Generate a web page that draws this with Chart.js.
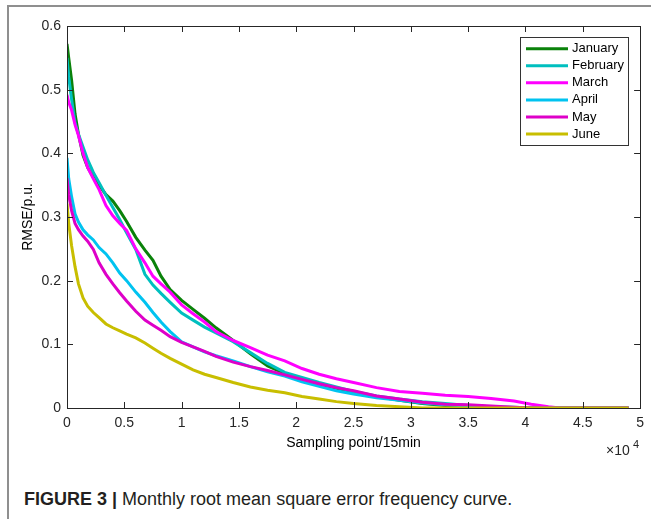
<!DOCTYPE html>
<html>
<head>
<meta charset="utf-8">
<title>Monthly RMSE frequency curve</title>
<script src="https://cdn.jsdelivr.net/npm/chart.js@4.4.1/dist/chart.umd.min.js"></script>
<style>
  html, body { margin: 0; padding: 0; background: #fff; }
  #wrap { position: relative; width: 651px; height: 519px; overflow: hidden; }
  #frameTop { position: absolute; left: 7px; top: 5px; width: 644px; height: 0; border-top: 2px solid #8f8f8f; }
  #frameLeft { position: absolute; left: 7px; top: 5px; width: 0; height: 514px; border-left: 2px solid #8f8f8f; }
  #chartBox { position: absolute; left: 0; top: 0; width: 651px; height: 470px; }
  #caption { position: absolute; left: 24px; top: 490px; font: 18px/18px "Liberation Sans", Arial, sans-serif; color: #231f20; white-space: nowrap; }
  #caption b { font-weight: bold; }
</style>
</head>
<body>
<div id="wrap">
  <div id="frameTop"></div>
  <div id="frameLeft"></div>
  <div id="chartBox"><canvas id="rmseChart" width="651" height="470"></canvas></div>
  <div id="caption"><b>FIGURE 3 |</b> Monthly root mean square error frequency curve.</div>
</div>
<script>
// sampling points (shared by every month)
const samplePoints = [0, 150, 400, 700, 1000, 1400, 1800, 2300, 2800, 3400, 4000, 4600, 5200, 6000, 6800, 7500,
  8200, 9000, 10000, 11000, 12000, 13000, 14500, 16000, 17500, 19000, 20500, 22000, 23500, 25000, 27000,
  29000, 31000, 33000, 35000, 37000, 39000, 40500, 42000, 43000, 45000, 47000, 49000];

const january = [0.572, 0.55, 0.515, 0.462, 0.43, 0.397, 0.378, 0.362, 0.35, 0.335, 0.325, 0.31, 0.293, 0.268, 0.248, 0.232,
  0.207, 0.186, 0.169, 0.155, 0.141, 0.126, 0.106, 0.085, 0.066, 0.054, 0.046, 0.038, 0.031, 0.025, 0.018,
  0.012, 0.007, 0.004, 0.002, 0.001, 0, 0, 0, 0, 0, 0, 0];
const february = [0.55, 0.52, 0.485, 0.448, 0.43, 0.41, 0.39, 0.37, 0.354, 0.334, 0.315, 0.296, 0.275, 0.249, 0.21, 0.193,
  0.18, 0.166, 0.149, 0.138, 0.127, 0.118, 0.104, 0.087, 0.07, 0.056, 0.048, 0.04, 0.033, 0.026, 0.019,
  0.014, 0.01, 0.007, 0.004, 0.002, 0.001, 0, 0, 0, 0, 0, 0];
const march = [0.492, 0.48, 0.468, 0.445, 0.428, 0.4, 0.378, 0.36, 0.343, 0.318, 0.302, 0.29, 0.279, 0.25, 0.228, 0.207,
  0.195, 0.182, 0.162, 0.148, 0.135, 0.12, 0.106, 0.095, 0.083, 0.074, 0.062, 0.053, 0.046, 0.04, 0.032,
  0.026, 0.023, 0.02, 0.018, 0.015, 0.011, 0.006, 0.002, 0, 0, 0, 0];
const april = [0.393, 0.36, 0.332, 0.305, 0.292, 0.28, 0.272, 0.264, 0.252, 0.242, 0.228, 0.212, 0.2, 0.182, 0.166, 0.15,
  0.135, 0.12, 0.104, 0.096, 0.088, 0.082, 0.074, 0.065, 0.057, 0.05, 0.041, 0.034, 0.027, 0.022, 0.016,
  0.012, 0.008, 0.005, 0.003, 0.001, 0, 0, 0, 0, 0, 0, 0];
const may = [0.361, 0.335, 0.31, 0.29, 0.28, 0.27, 0.262, 0.249, 0.228, 0.21, 0.195, 0.181, 0.168, 0.152, 0.138, 0.13,
  0.122, 0.112, 0.103, 0.096, 0.089, 0.081, 0.072, 0.065, 0.059, 0.052, 0.045, 0.038, 0.032, 0.027, 0.019,
  0.014, 0.009, 0.006, 0.005, 0.003, 0.001, 0, 0, 0, 0, 0, 0];
const june = [0.321, 0.29, 0.255, 0.222, 0.195, 0.173, 0.16, 0.15, 0.142, 0.132, 0.126, 0.121, 0.116, 0.11, 0.102, 0.094,
  0.086, 0.078, 0.069, 0.06, 0.053, 0.048, 0.04, 0.033, 0.028, 0.024, 0.018, 0.014, 0.01, 0.007, 0.004,
  0.002, 0, 0, 0, 0, 0, 0, 0, 0, 0, 0, 0];

const monthNames = ['January', 'February', 'March', 'April', 'May', 'June'];
const monthColors = ['#0a820a', '#00bfbf', '#ff00ff', '#00c3f0', '#de00c8', '#c8be00'];
const monthValues = [january, february, march, april, may, june];

const FONT = '"Liberation Sans", Arial, Helvetica, sans-serif';
const INK = '#262626';

function toPoints(values) {
  return values.map((v, i) => ({ x: samplePoints[i], y: v }));
}

// frame, inward ticks, legend box and the x10^4 exponent
const decorPlugin = {
  id: 'decor',
  afterDraw(chart) {
    const { ctx, chartArea: a, scales } = chart;
    ctx.save();
    ctx.strokeStyle = INK;
    ctx.lineWidth = 1;
    ctx.strokeRect(Math.round(a.left) + 0.5, Math.round(a.top) + 0.5,
      Math.round(a.right - a.left), Math.round(a.bottom - a.top));

    const tickLen = 6;
    ctx.beginPath();
    scales.x.ticks.forEach(t => {
      const px = Math.round(scales.x.getPixelForValue(t.value)) + 0.5;
      ctx.moveTo(px, a.bottom); ctx.lineTo(px, a.bottom - tickLen);
      ctx.moveTo(px, a.top); ctx.lineTo(px, a.top + tickLen);
    });
    scales.y.ticks.forEach(t => {
      const py = Math.round(scales.y.getPixelForValue(t.value)) + 0.5;
      ctx.moveTo(a.left, py); ctx.lineTo(a.left + tickLen, py);
      ctx.moveTo(a.right, py); ctx.lineTo(a.right - tickLen, py);
    });
    ctx.stroke();

    // legend
    const box = { x: 520.5, y: 37.5, w: 108, h: 108 };
    ctx.fillStyle = '#fff';
    ctx.fillRect(box.x, box.y, box.w, box.h);
    ctx.strokeStyle = '#333';
    ctx.strokeRect(box.x, box.y, box.w, box.h);
    ctx.font = '13px ' + FONT;
    ctx.textBaseline = 'middle';
    ctx.textAlign = 'left';
    chart.data.datasets.forEach((ds, i) => {
      const y = 48.7 + i * 17.07;
      ctx.strokeStyle = ds.borderColor;
      ctx.lineWidth = 3;
      ctx.beginPath();
      ctx.moveTo(526, y); ctx.lineTo(568, y);
      ctx.stroke();
      ctx.fillStyle = '#000';
      ctx.fillText(ds.label, 572, y);
    });

    // exponent label
    ctx.fillStyle = INK;
    ctx.textBaseline = 'alphabetic';
    ctx.font = '14px ' + FONT;
    ctx.fillText('\u00d710', 606, 455);
    ctx.font = '11px ' + FONT;
    ctx.fillText('4', 633, 448);
    ctx.restore();
  }
};

new Chart(document.getElementById('rmseChart'), {
  type: 'line',
  data: {
    datasets: monthNames.map((name, i) => ({
      label: name,
      data: toPoints(monthValues[i]),
      borderColor: monthColors[i],
      backgroundColor: monthColors[i],
      borderWidth: 3,
      pointRadius: 0,
      tension: 0,
      fill: false,
      order: monthNames.length - i
    }))
  },
  options: {
    responsive: false,
    animation: false,
    layout: { padding: { left: 0, top: 26, right: 10, bottom: 18 } },
    plugins: { legend: { display: false }, tooltip: { enabled: false } },
    scales: {
      x: {
        type: 'linear',
        min: 0,
        max: 50000,
        afterFit: scale => { scale.height = 44; },
        grid: { display: false, drawTicks: false },
        border: { display: false },
        ticks: {
          stepSize: 5000,
          padding: 7,
          color: INK,
          font: { family: FONT, size: 14 },
          maxRotation: 0,
          callback: v => String(v / 10000)
        },
        title: {
          display: true,
          text: 'Sampling point/15min',
          color: '#000',
          font: { family: FONT, size: 14 },
          padding: { top: 0, bottom: 0 }
        }
      },
      y: {
        min: 0,
        max: 0.6,
        afterFit: scale => { scale.width = 67; },
        grid: { display: false, drawTicks: false },
        border: { display: false },
        ticks: {
          stepSize: 0.1,
          padding: 6,
          color: INK,
          font: { family: FONT, size: 14 },
          callback: v => (v === 0 ? '0' : v.toFixed(1))
        },
        title: {
          display: true,
          text: 'RMSE/p.u.',
          color: '#000',
          font: { family: FONT, size: 14 },
          padding: { top: 20, bottom: 0 }
        }
      }
    }
  },
  plugins: [decorPlugin]
});
</script>
</body>
</html>
